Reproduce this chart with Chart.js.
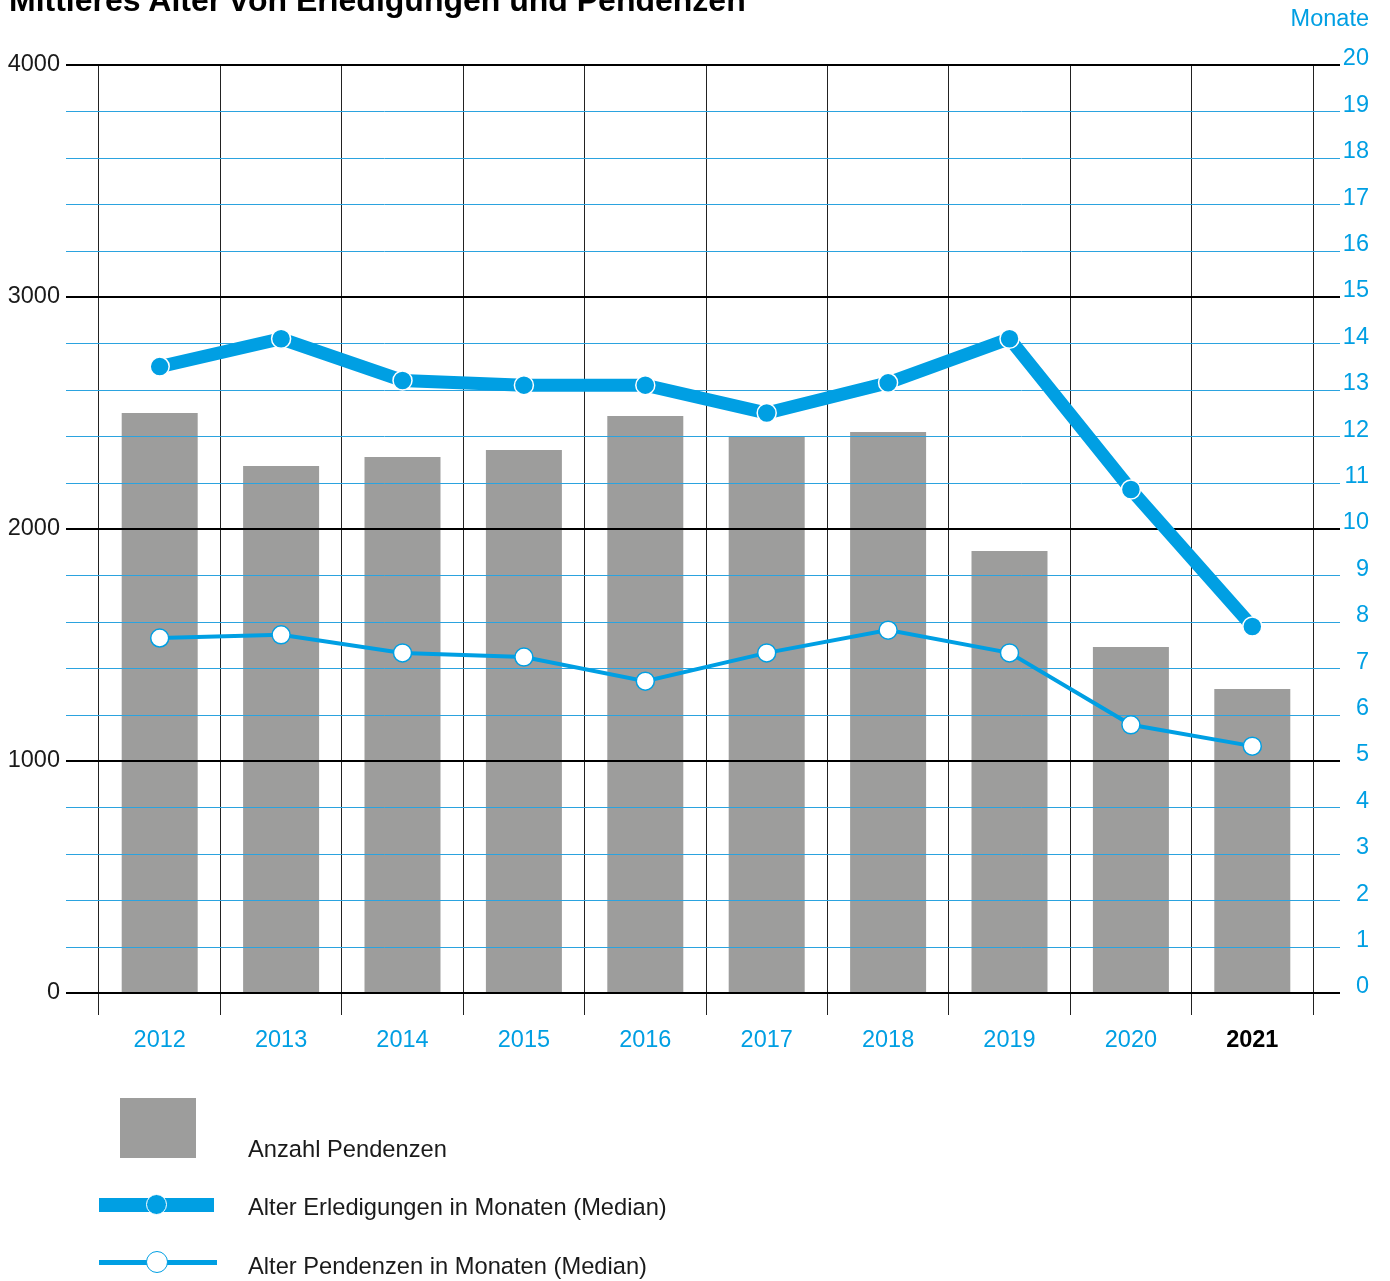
<!DOCTYPE html>
<html lang="de">
<head>
<meta charset="utf-8">
<title>Mittleres Alter von Erledigungen und Pendenzen</title>
<script src="https://cdn.jsdelivr.net/npm/chart.js@4.4.1/dist/chart.umd.min.js"></script>
<style>
  html, body { margin: 0; padding: 0; background: #fff; }
  body { width: 1390px; height: 1281px; position: relative; overflow: hidden;
         font-family: 'Liberation Sans', Arial, sans-serif; }
  #wrap { position: absolute; left: 0; top: 0; width: 1390px; height: 1281px; }
  .abs { position: absolute; white-space: nowrap; }
  #title { left: 9px; top: -16px; font-size: 32px; line-height: 32px; font-weight: bold; color: #000; }
  #unit { right: 21px; top: 6px; font-size: 23.5px; line-height: 24px; color: #009fe3; }
  .lg-text { font-size: 23.7px; line-height: 24px; color: #1a1a1a; left: 248px; }
</style>
</head>
<body>
<div id="wrap"><canvas id="chart" width="1390" height="1281"></canvas></div>
<div class="abs" id="title">Mittleres Alter von Erledigungen und Pendenzen</div>
<div class="abs" id="unit">Monate</div>

<!-- Legende -->
<div class="abs" style="left:120px; top:1098px; width:76px; height:60px; background:#9d9d9c;"></div>
<div class="abs lg-text" style="top:1137px;">Anzahl Pendenzen</div>

<div class="abs" style="left:99px; top:1198px; width:115px; height:14px; background:#009fe3;"></div>
<div class="abs" style="left:146px; top:1194px; width:21px; height:21px; border-radius:50%; background:#009fe3; box-sizing:border-box; border:1.5px solid #fff;"></div>
<div class="abs lg-text" style="top:1195px;">Alter Erledigungen in Monaten (Median)</div>

<div class="abs" style="left:99px; top:1260px; width:118px; height:5px; background:#009fe3;"></div>
<div class="abs" style="left:146px; top:1251px; width:22px; height:22px; border-radius:50%; background:#fff; box-sizing:border-box; border:1.5px solid #009fe3;"></div>
<div class="abs lg-text" style="top:1254px;">Alter Pendenzen in Monaten (Median)</div>

<script>
// Kategorien (Jahre)
const jahre = ['2012', '2013', '2014', '2015', '2016', '2017', '2018', '2019', '2020', '2021'];

// Anzahl Pendenzen (linke Achse)
const anzahlPendenzen = [2500, 2272, 2310, 2340, 2487, 2397, 2418, 1905, 1491, 1310];

// Alter Erledigungen in Monaten (Median, rechte Achse)
const alterErledigungen = [13.5, 14.1, 13.2, 13.1, 13.1, 12.5, 13.15, 14.1, 10.85, 7.9];

// Alter Pendenzen in Monaten (Median, rechte Achse)
const alterPendenzen = [7.65, 7.72, 7.33, 7.24, 6.72, 7.33, 7.82, 7.33, 5.78, 5.32];

// Achsen-Beschriftungen
const ticksAnzahl = [0, 1000, 2000, 3000, 4000];
const ticksMonate = [0, 1, 2, 3, 4, 5, 6, 7, 8, 9, 10, 11, 12, 13, 14, 15, 16, 17, 18, 19, 20];

const BLAU = '#009fe3';
const GRAU = '#9d9d9c';

Chart.defaults.font.family = "'Liberation Sans', Arial, sans-serif";
Chart.defaults.font.size = 23.5;

// Horizontale Linien: nach den Balken, vor den Linien zeichnen
const gitterPlugin = {
    id: 'gitter',
    afterDatasetDraw(chart, args) {
        if (args.index !== 0) return;
        const ctx = chart.ctx;
        const area = chart.chartArea;
        const x0 = area.left - 33;
        const x1 = area.right + 27;
        const yL = chart.scales.y;
        const yR = chart.scales.y1;
        ctx.save();
        ctx.lineWidth = 1;
        ctx.strokeStyle = '#2ba3df';
        ticksMonate.forEach(m => {
            if (m % 5 === 0) return;
            const p = Math.round(yR.getPixelForValue(m)) + 0.5;
            ctx.beginPath();
            ctx.moveTo(x0, p);
            ctx.lineTo(x1, p);
            ctx.stroke();
        });
        ctx.lineWidth = 2;
        ctx.strokeStyle = '#000';
        ticksAnzahl.forEach(v => {
            const p = Math.round(yL.getPixelForValue(v));
            ctx.beginPath();
            ctx.moveTo(x0, p);
            ctx.lineTo(x1, p);
            ctx.stroke();
        });
        ctx.restore();
    }
};

const ctx = document.getElementById('chart').getContext('2d');

new Chart(ctx, {
    type: 'bar',
    data: {
        labels: jahre,
        datasets: [{
            label: 'Anzahl Pendenzen',
            data: anzahlPendenzen,
            backgroundColor: GRAU,
            yAxisID: 'y',
            order: 3,
            categoryPercentage: 1,
            barPercentage: 0.626
        }, {
            type: 'line',
            label: 'Alter Erledigungen in Monaten (Median)',
            data: alterErledigungen,
            borderColor: BLAU,
            borderWidth: 13,
            pointRadius: 9.5,
            pointBackgroundColor: BLAU,
            pointBorderColor: '#fff',
            pointBorderWidth: 1.5,
            yAxisID: 'y1',
            order: 1
        }, {
            type: 'line',
            label: 'Alter Pendenzen in Monaten (Median)',
            data: alterPendenzen,
            borderColor: BLAU,
            borderWidth: 4,
            pointRadius: 9,
            pointBackgroundColor: '#fff',
            pointBorderColor: BLAU,
            pointBorderWidth: 1.5,
            yAxisID: 'y1',
            order: 2
        }]
    },
    options: {
        responsive: false,
        animation: false,
        layout: { padding: { top: 65, left: 0, right: 21, bottom: 0 } },
        plugins: {
            legend: { display: false },
            tooltip: { enabled: false }
        },
        scales: {
            x: {
                offset: true,
                grid: { display: true, offset: true, color: '#222', lineWidth: 1, tickLength: 22, drawTicks: true },
                border: { display: false },
                ticks: {
                    padding: 11,
                    color: c => c.index === 9 ? '#000' : BLAU,
                    font: c => c.index === 9 ? { size: 23.5, weight: 'bold' } : { size: 23.5 }
                },
                afterFit: s => { s.height = 288; }
            },
            y: {
                position: 'left',
                min: 0, max: 4000,
                grid: { display: false, drawTicks: false },
                border: { display: false },
                ticks: { stepSize: 1000, padding: 39, color: '#1a1a1a', callback: v => String(v) },
                afterFit: s => { s.width = 99; }
            },
            y1: {
                position: 'right',
                min: 0, max: 20,
                grid: { display: false, drawTicks: false },
                border: { display: false },
                ticks: { stepSize: 1, padding: 9, color: BLAU, crossAlign: 'far', labelOffset: -6, callback: v => String(v) },
                afterFit: s => { s.width = 56; }
            }
        }
    },
    plugins: [gitterPlugin]
});
</script>
</body>
</html>
